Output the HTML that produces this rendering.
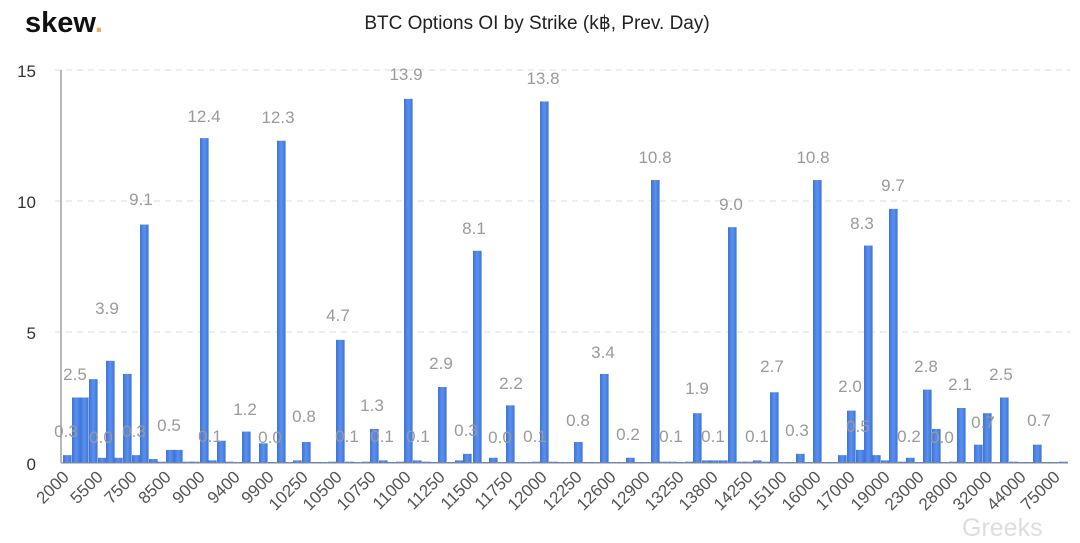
<!DOCTYPE html>
<html><head><meta charset="utf-8"><style>
html,body{margin:0;padding:0;background:#fff;}
svg{display:block;font-family:"Liberation Sans",sans-serif;}
.dl{fill:#9a9a9a;font-size:17px;text-anchor:middle;}
.xt{fill:#555;font-size:17px;text-anchor:end;}
.yt{fill:#333;font-size:17px;text-anchor:end;}
</style></head><body>
<svg id="c" width="1080" height="543" viewBox="0 0 1080 543">
<defs><linearGradient id="g" x1="0" x2="1"><stop offset="0" stop-color="#3d74d8"/><stop offset="0.5" stop-color="#5b90ee"/><stop offset="1" stop-color="#3d74d8"/></linearGradient></defs>
<text x="25" y="32" font-size="29" font-weight="bold" fill="#111">skew<tspan fill="#e8b057">.</tspan></text>
<text x="537" y="29" font-size="19" fill="#222" text-anchor="middle">BTC Options OI by Strike (k฿, Prev. Day)</text>
<g stroke="#ddd" stroke-dasharray="6,5" stroke-width="1">
<line x1="55" y1="70" x2="1070" y2="70"/><line x1="55" y1="201" x2="1070" y2="201"/><line x1="55" y1="332" x2="1070" y2="332"/>
</g>
<text class="yt" x="36" y="77">15</text><text class="yt" x="36" y="208">10</text><text class="yt" x="36" y="339">5</text><text class="yt" x="36" y="470">0</text>
<g id="bars" fill="url(#g)"></g>
<line x1="61" y1="70" x2="61" y2="463" stroke="#888" stroke-width="1.2"/>
<line x1="61" y1="463" x2="1068" y2="463" stroke="#888" stroke-width="1"/>
<g class="dl">
<text x="66" y="437">0.3</text><text x="75" y="380">2.5</text><text x="101" y="443">0.0</text><text x="107" y="314">3.9</text><text x="134" y="437">0.3</text><text x="141" y="205">9.1</text><text x="169" y="431">0.5</text><text x="204" y="122">12.4</text><text x="210" y="442">0.1</text><text x="245" y="415">1.2</text><text x="270" y="443">0.0</text><text x="278" y="123">12.3</text><text x="304" y="422">0.8</text><text x="338" y="321">4.7</text><text x="347" y="442">0.1</text><text x="372" y="411">1.3</text><text x="382" y="442">0.1</text><text x="406" y="80">13.9</text><text x="418" y="442">0.1</text><text x="441" y="369">2.9</text><text x="466" y="436">0.3</text><text x="474" y="234">8.1</text><text x="500" y="443">0.0</text><text x="511" y="389">2.2</text><text x="535" y="442">0.1</text><text x="543" y="84">13.8</text><text x="578" y="426">0.8</text><text x="603" y="358">3.4</text><text x="628" y="440">0.2</text><text x="655" y="163">10.8</text><text x="671" y="442">0.1</text><text x="697" y="394">1.9</text><text x="713" y="442">0.1</text><text x="731" y="210">9.0</text><text x="757" y="442">0.1</text><text x="772" y="372">2.7</text><text x="797" y="436">0.3</text><text x="813" y="163">10.8</text><text x="850" y="392">2.0</text><text x="858" y="432">0.5</text><text x="862" y="229">8.3</text><text x="893" y="191">9.7</text><text x="909" y="442">0.2</text><text x="926" y="372">2.8</text><text x="942" y="443">0.0</text><text x="960" y="390">2.1</text><text x="983" y="428">0.7</text><text x="1001" y="380">2.5</text><text x="1039" y="426">0.7</text>
</g>
<g class="xt">
<text transform="translate(70,478) rotate(-45)">2000</text>
<text transform="translate(104,478) rotate(-45)">5500</text>
<text transform="translate(138,478) rotate(-45)">7500</text>
<text transform="translate(172,478) rotate(-45)">8500</text>
<text transform="translate(206,478) rotate(-45)">9000</text>
<text transform="translate(241,478) rotate(-45)">9400</text>
<text transform="translate(275,478) rotate(-45)">9900</text>
<text transform="translate(309,478) rotate(-45)">10250</text>
<text transform="translate(343,478) rotate(-45)">10500</text>
<text transform="translate(377,478) rotate(-45)">10750</text>
<text transform="translate(412,478) rotate(-45)">11000</text>
<text transform="translate(446,478) rotate(-45)">11250</text>
<text transform="translate(480,478) rotate(-45)">11500</text>
<text transform="translate(514,478) rotate(-45)">11750</text>
<text transform="translate(548,478) rotate(-45)">12000</text>
<text transform="translate(583,478) rotate(-45)">12250</text>
<text transform="translate(617,478) rotate(-45)">12600</text>
<text transform="translate(651,478) rotate(-45)">12900</text>
<text transform="translate(685,478) rotate(-45)">13250</text>
<text transform="translate(719,478) rotate(-45)">13800</text>
<text transform="translate(754,478) rotate(-45)">14250</text>
<text transform="translate(788,478) rotate(-45)">15100</text>
<text transform="translate(822,478) rotate(-45)">16000</text>
<text transform="translate(856,478) rotate(-45)">17000</text>
<text transform="translate(891,478) rotate(-45)">19000</text>
<text transform="translate(925,478) rotate(-45)">23000</text>
<text transform="translate(959,478) rotate(-45)">28000</text>
<text transform="translate(993,478) rotate(-45)">32000</text>
<text transform="translate(1027,478) rotate(-45)">44000</text>
<text transform="translate(1061,478) rotate(-45)">75000</text>
</g>
<text x="962" y="536" font-size="25" fill="#d8d8d8" opacity="0.85">Greeks</text>
</svg>
<script>
var d=[[63,0.3],[72,2.5],[80,2.5],[89,3.2],[98,0.2],[106,3.9],[114,0.2],[123,3.4],[132,0.3],[140,9.1],[149,0.15],[157,0.05],[166,0.5],[174,0.5],[183,0.05],[191,0.05],[200,12.4],[208,0.1],[217,0.85],[225,0.05],[234,0.03],[242,1.2],[251,0.03],[259,0.75],[268,0.03],[277,12.3],[285,0.03],[293,0.1],[302,0.8],[311,0.03],[319,0.03],[328,0.05],[336,4.7],[345,0.05],[353,0.03],[362,0.05],[370,1.3],[379,0.1],[387,0.03],[396,0.05],[404,13.9],[413,0.1],[422,0.05],[430,0.03],[438,2.9],[447,0.03],[455,0.1],[463,0.35],[473,8.1],[481,0.03],[489,0.2],[498,0.03],[506,2.2],[515,0.03],[523,0.03],[532,0.05],[540,13.8],[549,0.05],[557,0.03],[566,0.03],[574,0.8],[583,0.03],[591,0.03],[600,3.4],[608,0.03],[617,0.03],[626,0.2],[634,0.03],[642,0.03],[651,10.8],[659,0.05],[668,0.05],[676,0.03],[685,0.05],[693,1.9],[702,0.1],[710,0.1],[719,0.1],[728,9.0],[737,0.05],[745,0.05],[753,0.1],[762,0.05],[770,2.7],[779,0.03],[787,0.03],[796,0.35],[804,0.03],[813,10.8],[822,0.03],[830,0.03],[838,0.3],[847,2.0],[856,0.5],[864,8.3],[872,0.3],[881,0.1],[889,9.7],[898,0.05],[906,0.2],[915,0.03],[923,2.8],[932,1.3],[940,0.03],[949,0.05],[957,2.1],[966,0.03],[974,0.7],[983,1.9],[992,0.03],[1000,2.5],[1009,0.05],[1017,0.03],[1025,0.03],[1033,0.7],[1042,0.03],[1050,0.03],[1059,0.05]];
var g=document.getElementById('bars'),h='';
d.forEach(function(b){var hh=Math.max(b[1]*26.2,1);h+='<rect x="'+b[0]+'" y="'+(463-hh)+'" width="8.6" height="'+hh+'"/>';});
g.innerHTML=h;
</script>
</body></html>
